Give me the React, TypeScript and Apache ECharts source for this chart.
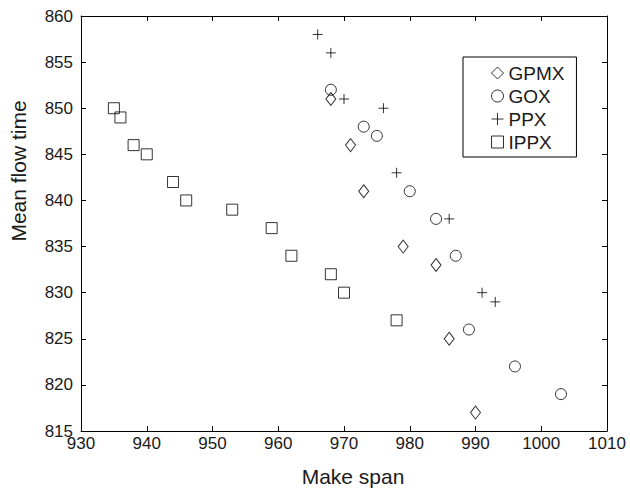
import React, { useEffect, useRef } from "react";
import * as echarts from "echarts";

const gpmx: [number, number][] = [
  [968, 851], [971, 846], [973, 841], [979, 835], [984, 833], [986, 825], [990, 817],
];
const gox: [number, number][] = [
  [968, 852], [973, 848], [975, 847], [980, 841], [984, 838], [987, 834], [989, 826], [996, 822], [1003, 819],
];
const ppx: [number, number][] = [
  [966, 858], [968, 856], [970, 851], [976, 850], [978, 843], [986, 838], [991, 830], [993, 829],
];
const ippx: [number, number][] = [
  [935, 850], [936, 849], [938, 846], [940, 845], [944, 842], [946, 840], [953, 839], [959, 837],
  [962, 834], [968, 832], [970, 830], [978, 827],
];

const xRange = { min: 930, max: 1010, interval: 10 };
const yRange = { min: 815, max: 860, interval: 5 };
const xTitle = "Make span";
const yTitle = "Mean flow time";

const FONT = "'Liberation Sans', Arial, Helvetica, sans-serif";
const PLUS = "path://M5,0L5,10M0,5L10,5";

export default function App() {
  const ref = useRef<HTMLDivElement>(null);
  useEffect(() => {
    if (!ref.current) return;
    const chart = echarts.init(ref.current, null, { renderer: "svg" });
    const hollow = { color: "transparent", borderColor: "#000", borderWidth: 1 };
    const axisLine = { show: true, lineStyle: { color: "#000", width: 1 } };
    const tick = { show: true, inside: true, length: 5, lineStyle: { color: "#000", width: 1 } };
    const label = { fontSize: 17, fontFamily: FONT, color: "#1a1a1a", formatter: (v: number) => String(v) };
    chart.setOption({
      animation: false,
      backgroundColor: "#fff",
      grid: { left: 81, right: 23, top: 16, bottom: 57, containLabel: false },
      xAxis: [
        {
          type: "value", position: "bottom", ...xRange,
          axisLine, axisTick: tick, splitLine: { show: false },
          axisLabel: { ...label, margin: 4 },
        },
        {
          type: "value", position: "top", ...xRange,
          axisLine, axisTick: tick, splitLine: { show: false },
          axisLabel: { show: false },
        },
      ],
      yAxis: [
        {
          type: "value", position: "left", ...yRange,
          axisLine, axisTick: tick, splitLine: { show: false },
          axisLabel: { ...label, margin: 8 },
        },
        {
          type: "value", position: "right", ...yRange,
          axisLine, axisTick: tick, splitLine: { show: false },
          axisLabel: { show: false },
        },
      ],
      legend: {
        orient: "vertical",
        left: 463,
        top: 57,
        padding: [6, 12, 5, 28],
        borderColor: "#000",
        borderWidth: 1,
        itemWidth: 12,
        itemHeight: 12,
        itemGap: 3,
        itemStyle: { color: "transparent", borderColor: "#000", borderWidth: 1 },
        textStyle: { fontSize: 19, fontFamily: FONT, color: "#1a1a1a", lineHeight: 20 },
        data: [
          { name: "GPMX", icon: "diamond" },
          { name: "GOX", icon: "circle" },
          { name: "PPX", icon: PLUS },
          { name: "IPPX", icon: "rect" },
        ],
      },
      graphic: [
        {
          type: "text", x: 353, y: 476,
          style: { text: xTitle, fontSize: 21, fontFamily: FONT, fill: "#1a1a1a", align: "center", verticalAlign: "middle" },
        },
        {
          type: "text", x: 18, y: 171, rotation: Math.PI / 2,
          style: { text: yTitle, fontSize: 21, fontFamily: FONT, fill: "#1a1a1a", align: "center", verticalAlign: "middle" },
        },
      ],
      series: [
        { name: "GPMX", type: "scatter", data: gpmx, symbol: "diamond", symbolSize: [10, 13], itemStyle: hollow },
        { name: "GOX", type: "scatter", data: gox, symbol: "circle", symbolSize: 11, itemStyle: hollow },
        { name: "PPX", type: "scatter", data: ppx, symbol: PLUS, symbolSize: 10, itemStyle: hollow },
        { name: "IPPX", type: "scatter", data: ippx, symbol: "rect", symbolSize: 11, itemStyle: hollow },
      ],
    });
    return () => chart.dispose();
  }, []);
  return (
    <div
      ref={ref}
      style={{ position: "fixed", left: 0, top: 0, width: 630, height: 488, background: "#fff" }}
    />
  );
}
